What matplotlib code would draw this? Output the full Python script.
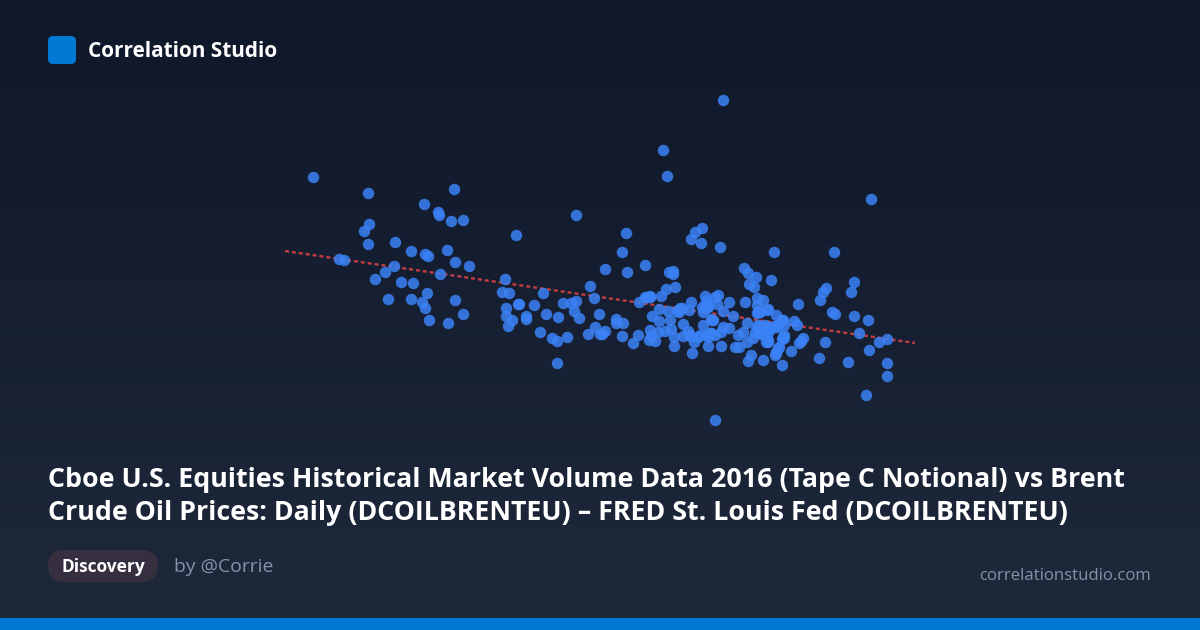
"""Correlation Studio share card: scatter with a dashed trend line on a dark gradient."""
import numpy as np
import matplotlib
matplotlib.use("Agg")
import matplotlib.pyplot as plt
from matplotlib.patches import FancyBboxPatch, Rectangle

TITLE_1 = "Cboe U.S. Equities Historical Market Volume Data 2016 (Tape C Notional) vs Brent"
TITLE_2 = "Crude Oil Prices: Daily (DCOILBRENTEU) – FRED St. Louis Fed (DCOILBRENTEU)"

# values, axis units are arbitrary (the card has no axes)
x_left = [27.7, 83, 169, 139.3, 153.3, 154.3, 166.3, 177.7, 83.7, 78.7, 83.3, 109.7, 126.3, 139.7, 143.3,
          161.7, 170.3, 184, 54, 59, 109.3, 99.7, 89.7, 155.3, 116, 128.3, 142.3, 103.3, 125.7, 136.7,
          139.7, 170.3, 178, 144.3, 163, 290.7, 231.3, 220.3, 217, 224, 257.7, 305.3, 308.7, 221, 221,
          226.7, 223.3, 233.3, 234.3, 248.7, 240.7, 240.7, 261, 273, 277.7, 286, 291, 288.7, 293.7,
          255.3, 266.7, 272, 282, 303.3, 310, 314.3, 315, 272]
y_left = [243, 227, 231, 216.3, 207.7, 205, 199.3, 199.7, 195.7, 189, 176, 178.3, 169, 165.7, 164,
          169.7, 157.7, 154, 161, 160, 154, 148.3, 141.3, 146, 138.3, 137.3, 127, 120.7, 120.7, 118,
          112, 120.3, 106, 99.7, 97, 204.7, 185.3, 141, 127.7, 127.3, 127, 134, 122, 112.3, 104.3,
          99.7, 94.3, 115.7, 115.7, 114.7, 104.3, 101, 105.7, 103, 117, 117.3, 119.3, 109, 101.7,
          87.7, 82.3, 78.7, 83.3, 86.3, 92.7, 106, 85.7, 56.7]

x_right = [438, 378, 382, 586, 341.3, 337, 320.3, 342.3, 360.3, 384, 387.7, 387.7, 405.7, 409.7, 417,
           416.3, 435.3, 488.7, 548.7, 459.3, 462.7, 471, 486.3, 464.3, 468.7, 390, 381.3, 376, 365,
           361.7, 360, 354, 541.3, 537.7, 535, 568.7, 566, 513, 546.7, 550, 569, 582.7, 573.7, 593.7,
           602.3, 583.7, 601.7, 602.3, 581.3, 430.3, 534, 563, 540.3, 518, 514, 516, 506.3, 496.7,
           477.7, 465.7, 462.7, 489.7, 491, 494, 449.7, 454.3, 436.3, 423.3, 406.7, 409.3, 389, 348.3,
           336.7, 353.3, 364, 370, 365, 365.7, 373.3, 380, 385.7, 389, 397.7, 403.3, 405, 413.3, 418.3,
           423.3, 425.7, 430, 435.7, 437.7, 444.3, 453.3, 457.7, 461.7, 467.7, 461.7, 471.7, 475.7, 480,
           485, 490, 474.3, 478.3, 483.3, 481, 483.3, 496.7, 499.3, 499.3, 496.7, 499, 491.7, 509, 512,
           472.3, 475, 482.7, 491, 471.7, 478, 471.7, 460.3, 448, 438.3, 444, 433, 430, 432.3, 420, 421,
           416.7, 421, 423.3, 418.3, 427.7, 425.7, 405.7, 404.3, 395, 392.3, 394, 382.7, 374, 366.7,
           374, 385, 398, 331, 337.7, 331, 319.7, 317]
y_right = [320, 270, 243.7, 221.3, 186.7, 167.7, 150.7, 147.7, 154.7, 148.3, 149.3, 146, 180.7, 188.3, 192.3,
           177.3, 173, 168.3, 168.3, 152.3, 146.7, 142.7, 140, 136.3, 133.3, 133.3, 130.7, 124, 124,
           123.3, 122.7, 118, 132, 127.7, 119.7, 137.7, 128, 116, 107.7, 106, 104, 99.7, 86.7, 78.3,
           81, 69.7, 56.7, 44.3, 25.3, 0.3, 62, 58, 77.7, 81.7, 76.7, 78.7, 69.3, 54.7,
           60.3, 65, 59.3, 65, 68.3, 73.3, 73, 73.3, 74, 73.7, 67.3, 78.3, 74.3, 76.7,
           83.7, 85.3, 80, 79.3, 90, 84, 87.7, 89.3, 91, 83.3, 84.3, 89.3, 84, 83.3, 94.7,
           83.3, 86.7, 85, 87.7, 93.3, 92.3, 85.3, 87.7, 78.3, 81.7, 96.7, 92.7, 94, 95,
           93.3, 94, 88.3, 85, 88.3, 78.3, 77.7, 80.7, 81.7, 85, 100, 95, 92.7, 99, 94.7,
           106.7, 108.3, 110.7, 105, 121.7, 120, 115, 118, 103.7, 109.3, 118, 124.7, 123.3, 116, 124, 119.3,
           113.3, 111.7, 113.3, 108.3, 100, 100.7, 118, 110, 111.7, 109.3, 108.3, 109.3, 110.7, 104.3,
           98.7, 100.3, 96, 101.3, 97.3, 96.7, 89.3, 86.3]

# overlapping points in the two dense clusters
x_dense = [473.3, 480, 475, 481.7, 486.7, 470, 483.3, 491.7, 498.3, 493.3, 490.7, 473.3, 481.7, 498.3,
           420, 423.3, 426.7, 393.3, 396.7, 361.7, 365, 421.7, 425, 415, 405]
y_dense = [95, 93.3, 86.7, 85, 91.7, 88.3, 80, 95, 83.3, 71.7, 66.7, 108.3, 110, 100,
           113.3, 115, 100, 110, 111.7, 123.3, 123.3, 85, 86.7, 85, 85]

trend_x = [0, 630]
trend_y = [169, 77]

PX_W, PX_H = 1200, 630

plt.rcParams["font.family"] = ["Open Sans", "DejaVu Sans"]


def pt(px):
    # font size given in picture pixels
    return px * 72 / 100


fig = plt.figure(figsize=(PX_W / 100, PX_H / 100), dpi=100)

# background gradient, top to bottom
bg = fig.add_axes([0, 0, 1, 1], zorder=0)
top = np.array(matplotlib.colors.to_rgb("#0f172a"))
bottom = np.array(matplotlib.colors.to_rgb("#1e293b"))
t = np.linspace(0, 1, PX_H)[:, None, None]
bg.imshow(top + (bottom - top) * t, aspect="auto", extent=[0, PX_W, PX_H, 0])
bg.set_xlim(0, PX_W)
bg.set_ylim(PX_H, 0)
bg.axis("off")

# scatter area: 285..915 px wide, 100..420 px down
ax = fig.add_axes([285 / PX_W, 1 - 420 / PX_H, 630 / PX_W, 320 / PX_H], zorder=1)
ax.patch.set_alpha(0)
ax.plot(trend_x, trend_y, color="#ef4444", lw=1.7, alpha=0.8, dashes=(1.7, 1.25), zorder=1)
ax.scatter(x_left + x_right + x_dense, y_left + y_right + y_dense, s=68, color="#3b82f6", alpha=0.85,
           linewidths=0, zorder=2, clip_on=False)
ax.set_xlim(0, 630)
ax.set_ylim(0, 320)
ax.axis("off")

# header, footer and text, positioned in picture pixels
ov = fig.add_axes([0, 0, 1, 1], zorder=2)
ov.patch.set_alpha(0)
ov.set_xlim(0, PX_W)
ov.set_ylim(PX_H, 0)
ov.axis("off")

ov.add_patch(FancyBboxPatch((53, 41), 18, 18, boxstyle="round,pad=5,rounding_size=5", fc="#0078d4", ec="none"))
ov.text(88, 51.5, "Correlation Studio", color="white", fontsize=pt(20.8), fontweight="bold", va="center")

ov.text(48, 480, TITLE_1, color="white", fontsize=pt(26.8), fontweight="bold", va="center")
ov.text(48, 513, TITLE_2, color="white", fontsize=pt(26.8), fontweight="bold", va="center")

ov.add_patch(FancyBboxPatch((64, 566), 78, 0, boxstyle="round,pad=16,rounding_size=16", fc="#352f40", ec="none"))
ov.text(103.5, 567, "Discovery", color="white", fontsize=pt(17.4), fontweight="bold", va="center", ha="center")
ov.text(174, 566.5, "by @Corrie", color="#8492a6", fontsize=pt(19.4), va="center")
ov.text(1151, 576, "correlationstudio.com", color="#8492a6", fontsize=pt(16.7), va="center", ha="right")

ov.add_patch(Rectangle((0, 618), PX_W, 12, fc="#0078d4", ec="none"))

fig.savefig("out.png", dpi=100)
